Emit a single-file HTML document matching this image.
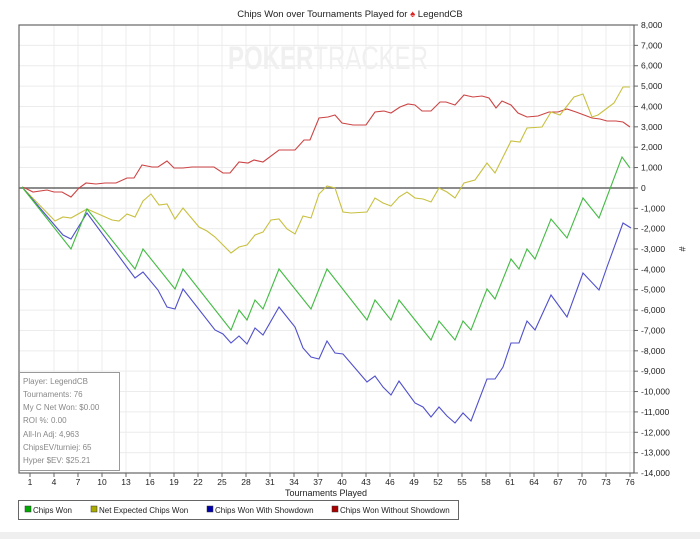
<!DOCTYPE html>
<html><head><meta charset="utf-8"><style>
body{margin:0;background:#fff;width:700px;height:539px;overflow:hidden;font-family:"Liberation Sans",sans-serif}
</style></head><body>
<svg width="700" height="539" viewBox="0 0 700 539" xmlns="http://www.w3.org/2000/svg" font-family="Liberation Sans, sans-serif">
<rect x="0" y="532" width="700" height="7" fill="#efefef"/>
<text x="350" y="17" font-size="9.5" text-anchor="middle" fill="#222">Chips Won over Tournaments Played for <tspan fill="#d22">♠</tspan> LegendCB</text>
<g id="grid" stroke="#ececec" stroke-width="1"></g>
<text x="328" y="69" font-size="32" text-anchor="middle" fill="#f0f0f0" textLength="200" lengthAdjust="spacingAndGlyphs"><tspan font-weight="bold">POKER</tspan>TRACKER</text>
<line x1="19" y1="188" x2="634" y2="188" stroke="#666" stroke-width="1.5"/>
<rect x="19" y="25" width="615" height="448" fill="none" stroke="#666" stroke-width="1.2"/>
<g id="ax" font-size="8.5" fill="#222"></g>
<text x="679" y="249" font-size="9" transform="rotate(90 679 249)" text-anchor="middle" fill="#222">#</text>
<text x="326" y="496" font-size="9" text-anchor="middle" fill="#222">Tournaments Played</text>
<g fill="none" stroke-width="1.1">
<polyline stroke="#cc4444" points="22,187 25,188 33,192 47,190 54,192 62,192 71,197 79,188 86,183 96,184 105,183 116,183 127,178 134,178 142,165 152,167 158,167 167,161 174,168 183,168 192,167 214,167 223,173 230,173 239,162 248,163 254,160 263,162 279,150 295,150 304,140 310,140 319,118 328,117 335,115 342,123 353,125 366,125 375,112 384,111 391,113 400,107 408,104 415,105 422,111 431,111 440,102 446,102 455,105 464,95 473,97 482,96 489,98 496,108 502,101 511,105 518,113 527,117 538,116 549,112 558,112 567,109 576,112 592,118 600,119 607,121 616,121 623,122 630,127"/>
<polyline stroke="#c8c040" points="22,187 55,221 63,217 71,218 87,209 112,220 119,221 127,214 135,217 143,201 151,194 159,205 167,204 175,219 183,208 199,227 207,231 215,237 231,253 239,247 247,245 255,235 263,232 271,220 279,219 287,229 295,234 303,216 311,218 319,194 327,186 335,188 343,212 351,213 367,212 375,198 383,203 391,206 399,197 407,192 415,198 423,199 431,202 439,188 447,192 455,198 464,183 475,180 487,163 495,173 511,141 520,142 527,128 542,127 551,112 560,115 574,97 583,94 592,117 598,115 614,103 623,87 630,87"/>
<polyline stroke="#5050cc" points="22,187 63,235 71,239 87,213 135,278 143,272 158,290 167,307 175,309 183,289 215,330 223,334 231,343 239,336 247,344 255,328 263,335 279,307 295,327 303,348 311,357 319,359 327,341 335,353 343,354 367,382 375,376 383,387 391,395 399,381 415,403 423,407 431,417 439,407 447,416 455,423 463,413 471,421 487,379 495,379 503,367 511,343 519,343 527,321 535,330 551,295 567,317 583,273 599,290 607,267 623,223 631,228"/>
<polyline stroke="#44bb44" points="22,187 71,249 87,209 135,269 143,249 175,289 183,269 231,330 239,310 247,320 255,300 263,309 279,269 311,309 327,269 367,320 375,300 391,320 399,300 431,340 439,321 455,340 463,321 471,330 487,289 495,299 511,259 519,269 527,249 535,259 551,219 567,238 583,198 599,218 622,157 630,168"/>
</g>
<rect x="19.5" y="372.5" width="100" height="98" fill="#fff" stroke="#999"/>
<g font-size="8" fill="#888">
<text x="23" y="384">Player: LegendCB</text>
<text x="23" y="397">Tournaments: 76</text>
<text x="23" y="410">My C Net Won: $0.00</text>
<text x="23" y="423">ROI %: 0.00</text>
<text x="23" y="437">All-In Adj: 4,963</text>
<text x="23" y="450">ChipsEV/turniej: 65</text>
<text x="23" y="463">Hyper $EV: $25.21</text>
</g>
<rect x="18.5" y="500.5" width="440" height="19" fill="#fff" stroke="#666"/>
<g font-size="8" fill="#222">
<rect x="25" y="506" width="6" height="6" fill="#0a0" stroke="#333" stroke-width=".5"/><text x="33" y="513">Chips Won</text>
<rect x="91" y="506" width="6" height="6" fill="#aa0" stroke="#333" stroke-width=".5"/><text x="99" y="513">Net Expected Chips Won</text>
<rect x="207" y="506" width="6" height="6" fill="#00a" stroke="#333" stroke-width=".5"/><text x="215" y="513">Chips Won With Showdown</text>
<rect x="332" y="506" width="6" height="6" fill="#a00" stroke="#333" stroke-width=".5"/><text x="340" y="513">Chips Won Without Showdown</text>
</g>
</svg>
<script>
var ns="http://www.w3.org/2000/svg",g=document.getElementById("grid"),ax=document.getElementById("ax");
function el(p,t,a){var e=document.createElementNS(ns,t);for(var k in a)e.setAttribute(k,a[k]);p.appendChild(e);return e;}
for(var v=8;v>=-14;v--){var y=25+(8-v)*448/22;
 if(v!=8&&v!=-14&&v!=0)el(g,"line",{x1:19,x2:634,y1:y,y2:y});
 el(ax,"line",{x1:634,x2:638,y1:y,y2:y,stroke:"#666"});
 var s=v==0?"0":(v<0?"-":"")+Math.abs(v)+",000";
 el(ax,"text",{x:641,y:y+3}).textContent=s;}
for(var t=1;t<=76;t+=3){var x=30+(t-1)*8;
 if(t>1)el(g,"line",{x1:x,x2:x,y1:25,y2:473});
 el(ax,"line",{x1:x,x2:x,y1:473,y2:477,stroke:"#666"});
 el(ax,"text",{x:x,y:485,"text-anchor":"middle"}).textContent=t;}
</script>
</body></html>
